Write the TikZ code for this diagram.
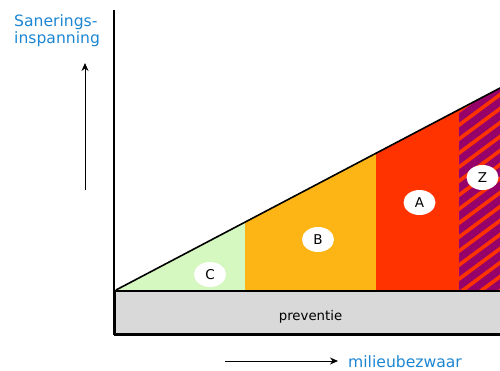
\documentclass[tikz,border=0pt]{standalone}
\usepackage{fontspec}
\setmainfont{DejaVu Sans}
\usetikzlibrary{arrows.meta,shapes.geometric}
\definecolor{cgreen}{RGB}{213,247,192}
\definecolor{corange}{RGB}{253,181,21}
\definecolor{cred}{RGB}{255,51,0}
\definecolor{cpurple}{RGB}{150,0,105}
\definecolor{cgray}{RGB}{217,217,217}
\definecolor{cblue}{RGB}{28,134,210}
\tikzset{
  lbl/.style={ellipse, fill=white, minimum width=32pt, minimum height=25pt, inner sep=0pt, font=\fontsize{13.5}{14}\selectfont},
  bluetxt/.style={text=cblue, font=\fontsize{15.6}{17}\selectfont, inner sep=0pt},
  axarrow/.style={-{Stealth[length=8pt,width=7pt]}, line width=1pt},
}
\begin{document}
\begin{tikzpicture}[x=1pt,y=-1pt]
\useasboundingbox (0,0) rectangle (500,370);
\clip (0,0) rectangle (500,370);
% regions
\fill[cgreen] (116,290) -- (245,222) -- (245,290) -- cycle;
\fill[corange] (245,222.2) -- (376,153.2) -- (376,290) -- (245,290) -- cycle;
\fill[cred] (376,153.2) -- (459,109.6) -- (459,290) -- (376,290) -- cycle;
\begin{scope}
  \clip (459,109.6) -- (502,87) -- (502,290) -- (459,290) -- cycle;
  \fill[cpurple] (455,80) rectangle (505,292);
  \foreach \c in {100,114,...,360}
    \draw[cred, line width=3.6pt] (455,\c) -- (505,\c-37);
\end{scope}
% preventie box
\node[draw=black, line width=1.5pt, fill=cgray, minimum width=392pt, minimum height=44pt, anchor=north west, inner sep=0pt] (prev) at (114,290) {};
\node[font=\fontsize{13.3}{14}\selectfont, anchor=base] (prevtxt) at (310.5,320) {preventie};
% hypotenuse
\draw[line width=1.6pt] (116,290) -- (505,85.4);
% axis
\coordinate (atop) at (114,10);
\coordinate (abot) at (114,335);
\draw[line width=2pt] (atop) -- (abot);
\draw[line width=2pt] (113,334) -- (505,334);
% labels
\node[lbl] (C) at (210,274.5) {C};
\node[lbl] (B) at (318,239.5) {B};
\node[lbl] (A) at (419.5,202.5) {A};
\node[lbl] (Z) at (482.5,177.5) {Z};
% texts
\node[bluetxt, anchor=base west] (s1) at (14,26) {Sanerings-};
\node[bluetxt, anchor=base west] (s2) at (14,43.5) {inspanning};
\node[bluetxt, anchor=base west] (mb) at (348,367) {milieubezwaar};
% arrows
\coordinate (v0) at (85,190);
\coordinate (v1) at (85,63);
\draw[axarrow] (v0) -- (v1);
\coordinate (h0) at (225,361);
\coordinate (h1) at (338,361);
\draw[axarrow] (h0) -- (h1);
\end{tikzpicture}
\end{document}
